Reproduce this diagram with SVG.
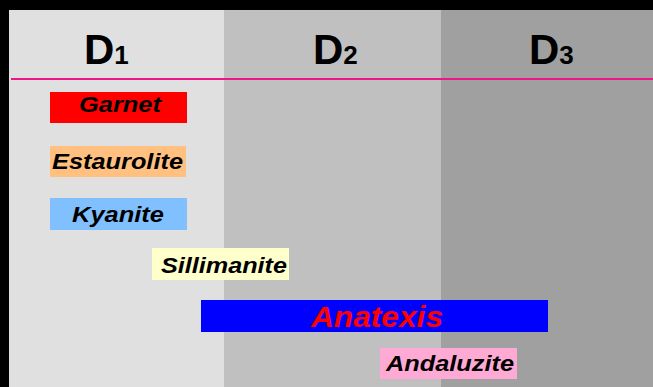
<svg xmlns="http://www.w3.org/2000/svg" width="653" height="387" viewBox="0 0 653 387">
<style>
.hd{font-family:"Liberation Sans",Arial,sans-serif;font-weight:bold;fill:#000}
.lb{font-family:"Liberation Sans",Arial,sans-serif;font-weight:bold;font-style:italic;font-size:21.5px;fill:#000}
</style>
<rect x="0" y="0" width="653" height="387" fill="#000"/>
<g id="columns">
<rect x="9" y="10" width="215" height="377" fill="#e0e0e0"/>
<rect x="224" y="10" width="217" height="377" fill="#c0c0c0"/>
<rect x="441" y="10" width="212" height="377" fill="#a0a0a0"/>
</g>
<g id="headers">
<text class="hd" x="84" y="64" font-size="42">D<tspan font-size="26">1</tspan></text>
<text class="hd" x="313" y="64" font-size="42">D<tspan font-size="26">2</tspan></text>
<text class="hd" x="529" y="64" font-size="42">D<tspan font-size="26">3</tspan></text>
</g>
<line x1="11" y1="79" x2="653" y2="79" stroke="#f0168a" stroke-width="2"/>
<g id="garnet">
<rect x="50" y="92" width="137" height="31" fill="#ff0000"/>
<text class="lb" x="79" y="112" textLength="82" lengthAdjust="spacingAndGlyphs">Garnet</text>
</g>
<g id="estaurolite">
<rect x="50" y="146" width="136" height="31" fill="#ffc080"/>
<text class="lb" x="52" y="169" textLength="131" lengthAdjust="spacingAndGlyphs">Estaurolite</text>
</g>
<g id="kyanite">
<rect x="50" y="198" width="137" height="32" fill="#80c0ff"/>
<text class="lb" x="72" y="222" textLength="92" lengthAdjust="spacingAndGlyphs">Kyanite</text>
</g>
<g id="sillimanite">
<rect x="152" y="248" width="137" height="32" fill="#ffffcc"/>
<text class="lb" x="161" y="273" textLength="126" lengthAdjust="spacingAndGlyphs">Sillimanite</text>
</g>
<g id="anatexis">
<rect x="201" y="300" width="347" height="32" fill="#0000ff"/>
<text x="311" y="327" font-family="Liberation Sans,Arial,sans-serif" font-weight="bold" font-style="italic" font-size="30" fill="#ff0000" textLength="132" lengthAdjust="spacingAndGlyphs">Anatexis</text>
</g>
<g id="andaluzite">
<rect x="380" y="348" width="137" height="31" fill="#ffaad4"/>
<text class="lb" x="386" y="371" textLength="128" lengthAdjust="spacingAndGlyphs">Andaluzite</text>
</g>
<g id="connectors"/>
</svg>
